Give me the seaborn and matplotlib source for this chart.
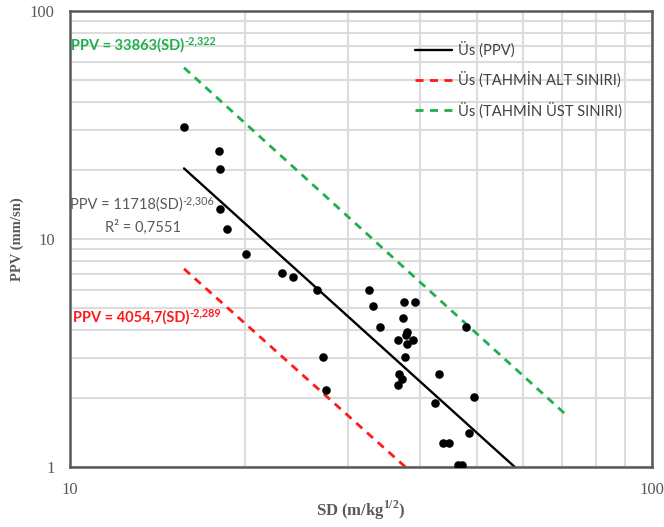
import numpy as np
import pandas as pd
import matplotlib
matplotlib.use("Agg")
import matplotlib.pyplot as plt
from matplotlib.ticker import LogLocator, NullFormatter, FixedLocator, FixedFormatter
import seaborn as sns

# ------------------------------
# Data
# ------------------------------
sd = [15.7, 18.0, 18.1, 18.1, 18.6, 20.1, 23.1, 24.2, 26.6, 32.6, 33.2, 37.5,
      39.2, 34.1, 37.4, 38.0, 37.8, 36.6, 38.9, 37.9, 37.7, 48.0, 27.2, 27.5,
      36.8, 37.2, 36.6, 43.1, 49.4, 42.4, 48.4, 43.8, 44.8, 46.5, 47.1]
ppv = [30.9, 24.3, 20.2, 13.5, 11.1, 8.6, 7.1, 6.8, 6.0, 6.0, 5.1, 5.3,
       5.3, 4.1, 4.5, 3.9, 3.8, 3.6, 3.6, 3.45, 3.05, 4.1, 3.05, 2.18,
       2.55, 2.43, 2.29, 2.55, 2.03, 1.9, 1.41, 1.28, 1.28, 1.02, 1.02]

fit_x = [15.7, 58.1]
fit_y = [20.4, 1.0]
low_x = [15.7, 37.7]
low_y = [7.4, 1.0]
up_x = [15.7, 70.9]
up_y = [56.4, 1.71]

legend_labels = ["Üs (PPV)", "Üs (TAHMİN ALT SINIRI)", "Üs (TAHMİN ÜST SINIRI)"]
green = "#1fb04b"
red = "#ff1a1a"
gray = "#595959"

sns.set_style("white")
plt.rcParams["font.family"] = ["Lato", "DejaVu Sans"]
plt.rcParams["mathtext.fontset"] = "custom"
plt.rcParams["mathtext.rm"] = "Liberation Serif:bold"

fig = plt.figure(figsize=(6.64, 5.27), dpi=100)
ax = fig.add_axes([70 / 664, 1 - 467 / 527, 582 / 664, 456 / 527])

sns.lineplot(x=fit_x, y=fit_y, ax=ax, color="black", lw=1.7, label=legend_labels[0])
sns.lineplot(x=low_x, y=low_y, ax=ax, color=red, lw=2.0, label=legend_labels[1])
sns.lineplot(x=up_x, y=up_y, ax=ax, color=green, lw=2.0, label=legend_labels[2])
for ln in ax.lines[1:]:
    ln.set_dashes((2.9, 2.3))
sns.scatterplot(x=sd, y=ppv, ax=ax, color="black", s=38, edgecolor="black",
                linewidth=0, zorder=5, legend=False)

ax.set_xscale("log")
ax.set_yscale("log")
ax.set_xlim(10, 100)
ax.set_ylim(1, 100)

# grid on minor ticks, like the Excel chart
ax.xaxis.set_minor_locator(LogLocator(base=10, subs=np.arange(2, 10)))
ax.yaxis.set_minor_locator(LogLocator(base=10, subs=np.arange(2, 10)))
ax.xaxis.set_minor_formatter(NullFormatter())
ax.yaxis.set_minor_formatter(NullFormatter())
ax.xaxis.set_major_locator(FixedLocator([10, 100]))
ax.xaxis.set_major_formatter(FixedFormatter(["10", "100"]))
ax.yaxis.set_major_locator(FixedLocator([1, 10, 100]))
ax.yaxis.set_major_formatter(FixedFormatter(["1", "10", "100"]))
ax.grid(True, which="both", color="#dcdcdc", lw=1.5)
ax.set_axisbelow(True)

ax.tick_params(which="both", direction="in", color="#404040", width=1.2)
ax.tick_params(which="major", length=0, labelsize=12, labelcolor=gray, pad=11)
ax.tick_params(which="minor", length=4)
for lab in ax.get_xticklabels() + ax.get_yticklabels():
    lab.set_family("Liberation Serif")
for sp in ax.spines.values():
    sp.set_color("#595959")
    sp.set_linewidth(1.8)

ax.set_xlabel("SD (m/kg$^{1/2}$)", family="Liberation Serif", fontweight="bold",
              fontsize=12, color=gray, labelpad=0)
ax.set_ylabel("PPV (mm/sn)", family="Liberation Serif", fontweight="bold",
              fontsize=10.5, color=gray, labelpad=4)


# equations: base text plus a superscript placed right after it
def equation(x, y, base, sup, color, weight):
    t = ax.text(x, y, base, color=color, fontsize=10.5, fontweight=weight,
                va="center")
    ax.annotate(sup, xy=(1, 0.42), xycoords=t, color=color, fontsize=7.8,
                fontweight=weight, va="bottom", ha="left")
    return t


equation(10.05, 71, "PPV = 33863(SD)", "-2,322", green, "bold")
equation(10.0, 14.1, "PPV = 11718(SD)", "-2,306", gray, "normal")
ax.text(11.5, 11.2, "R² = 0,7551", color=gray, fontsize=10.5, va="center")
equation(10.1, 4.55, "PPV = 4054,7(SD)", "-2,289", red, "bold")

leg = ax.legend(loc="upper left", bbox_to_anchor=(0.57, 0.962), frameon=False,
                fontsize=10.6, labelspacing=0.95, handlelength=2.5, handletextpad=0.4,
                labelcolor="#404040")

fig.savefig("out.png", dpi=100)
